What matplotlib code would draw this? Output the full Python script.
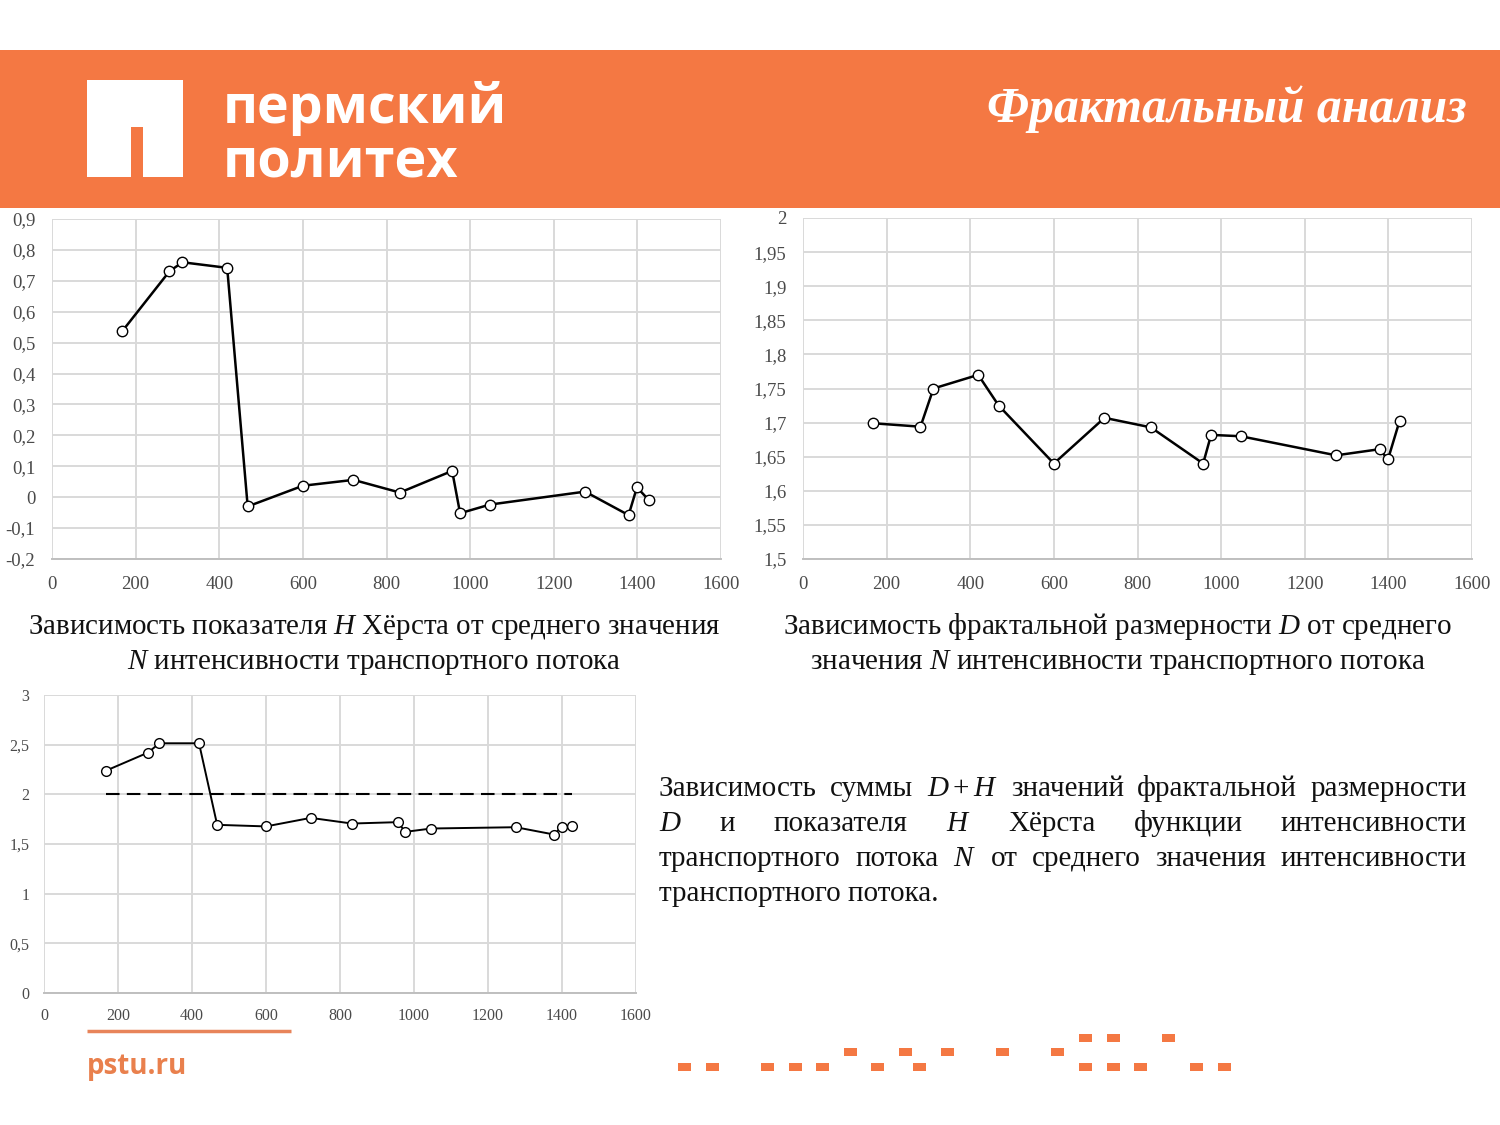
import matplotlib
matplotlib.use("Agg")
import matplotlib.pyplot as plt
import numpy as np
from matplotlib.patches import Rectangle, Polygon
from matplotlib.ticker import FuncFormatter

plt.rcParams['font.family'] = ['Liberation Serif', 'DejaVu Serif']
plt.rcParams['mathtext.fontset'] = 'custom'
plt.rcParams['mathtext.rm'] = 'Liberation Serif'
plt.rcParams['mathtext.it'] = 'Liberation Serif:italic'
plt.rcParams['mathtext.bf'] = 'Liberation Serif:bold'

# mean traffic intensity N
N = [168, 281, 312, 419, 468, 600, 721, 832, 957, 976, 1047, 1275, 1379, 1399, 1427]
# Hurst exponent H
H = [0.537, 0.731, 0.760, 0.742, -0.030, 0.037, 0.056, 0.015, 0.085, -0.052,
     -0.024, 0.018, -0.058, 0.032, -0.009]
# fractal dimension D
D = [1.699, 1.694, 1.750, 1.770, 1.725, 1.640, 1.707, 1.693, 1.640, 1.682,
     1.680, 1.652, 1.661, 1.646, 1.703]
# sum D + H
DH = [2.239, 2.420, 2.514, 2.514, 1.693, 1.677, 1.763, 1.706, 1.720, 1.622,
      1.656, 1.669, 1.595, 1.676, 1.686]
ref_level = 2

x_ticks = [0, 200, 400, 600, 800, 1000, 1200, 1400, 1600]
h_ticks = [-0.2, -0.1, 0, 0.1, 0.2, 0.3, 0.4, 0.5, 0.6, 0.7, 0.8, 0.9]
d_ticks = [1.5, 1.55, 1.6, 1.65, 1.7, 1.75, 1.8, 1.85, 1.9, 1.95, 2]
dh_ticks = [0, 0.5, 1, 1.5, 2, 2.5, 3]

title = "Фрактальный анализ"
cap1 = ["Зависимость показателя $H$ Хёрста от среднего значения",
        "$N$ интенсивности транспортного потока"]
cap2 = ["Зависимость фрактальной размерности $D$ от среднего",
        "значения $N$ интенсивности транспортного потока"]
para = [["Зависимость", "суммы", "$D+H$", "значений", "фрактальной", "размерности"],
        ["$D$", "и", "показателя", "$H$", "Хёрста", "функции", "интенсивности"],
        ["транспортного", "потока", "$N$", "от", "среднего", "значения", "интенсивности"],
        ["транспортного потока."]]

ORANGE = '#F47843'
W, Hpx = 1500, 1125

fig = plt.figure(figsize=(15, 11.25), dpi=100)
bg = fig.add_axes([0, 0, 1, 1])
bg.set_xlim(0, W)
bg.set_ylim(Hpx, 0)
bg.axis('off')
r = fig.canvas.get_renderer()


def fit(t, width):
    w = t.get_window_extent(renderer=r).width
    t.set_fontsize(t.get_fontsize() * width / w)


# header band and logo
bg.add_patch(Rectangle((0, 50), W, 158, color=ORANGE, lw=0))
bg.add_patch(Polygon([(87, 80), (183, 80), (183, 177), (143, 177), (143, 127),
                      (131, 127), (131, 177), (87, 177)], color='white', lw=0))
t = bg.text(223, 123, "пермский", color='white', fontsize=40, fontweight='bold',
            family='Open Sans', va='baseline')
fit(t, 284)
t = bg.text(223, 177, "политех", color='white', fontsize=40, fontweight='bold',
            family='Open Sans', va='baseline')
fit(t, 235)
t = bg.text(1467, 122, title, color='white', fontsize=32, fontweight='bold',
            style='italic', ha='right', va='baseline')
fit(t, 480)

# footer
bg.plot([87, 291], [1031, 1031], color='#E8845A', lw=2.5, solid_capstyle='butt')
t = bg.text(87, 1074, "pstu.ru", color='#E9804D', fontsize=22, fontweight='bold',
            family='Open Sans', va='baseline')
fit(t, 100)
sq_bottom = [684, 712, 767, 795, 822, 877, 919, 1085, 1113, 1140, 1196, 1224]
sq_mid = [850, 905, 947, 1002, 1057]
sq_top = [1085, 1113, 1168]
for xs, yc in ((sq_bottom, 1067), (sq_mid, 1052), (sq_top, 1038)):
    for xc in xs:
        bg.add_patch(Rectangle((xc - 6.5, yc - 4), 13, 8, color=ORANGE, lw=0))

# captions
for lines, xc in ((cap1, 374), (cap2, 1118)):
    for i, s in enumerate(lines):
        t = bg.text(xc, 634 + 35 * i, s, fontsize=19, ha='center', va='baseline',
                    color='#111111')
        if i == 0:
            fit(t, 693 if xc < 700 else 669)
            fs = t.get_fontsize()
        else:
            t.set_fontsize(fs)

# justified paragraph
x0, x1 = 659, 1467
for i, words in enumerate(para):
    yb = 796 + 35 * i
    texts = [bg.text(0, yb, w, fontsize=fs, va='baseline', color='#111111') for w in words]
    widths = [tt.get_window_extent(renderer=r).width for tt in texts]
    if len(words) > 1:
        gap = (x1 - x0 - sum(widths)) / (len(words) - 1)
    else:
        gap = 0
    x = x0
    for tt, w in zip(texts, widths):
        tt.set_x(x)
        x += w + gap


def fmt(v, pos):
    v = round(v, 2)
    if v == 0:
        return "0"
    return f"{v:g}".replace('.', ',')


def style_axes(ax, yticks, ylim, tick_fs, pad):
    ax.set_xlim(0, 1600)
    ax.set_ylim(*ylim)
    ax.set_xticks(x_ticks)
    ax.set_yticks(yticks)
    ax.yaxis.set_major_formatter(FuncFormatter(fmt))
    ax.grid(True, color='#D9D9D9', lw=1.4)
    ax.set_axisbelow(True)
    for s in ('top', 'right', 'left'):
        ax.spines[s].set_visible(False)
    ax.spines['bottom'].set_color('#BFBFBF')
    ax.spines['bottom'].set_linewidth(1.4)
    ax.tick_params(length=0, labelsize=tick_fs, labelcolor='#4A4A4A', pad=pad)


def px_axes(left, right, top, bottom):
    return fig.add_axes([left / W, 1 - bottom / Hpx, (right - left) / W, (bottom - top) / Hpx])


ax1 = px_axes(52, 721, 219, 559)
ax1.plot(N, H, color='black', lw=1.8, marker='o', ms=7.5, mfc='white', mec='black', mew=1.0,
         clip_on=False)
style_axes(ax1, h_ticks, (-0.2, 0.9), 13.5, 12)

ax2 = px_axes(803, 1472, 218, 559)
ax2.plot(N, D, color='black', lw=1.8, marker='o', ms=7.5, mfc='white', mec='black', mew=1.0,
         clip_on=False)
style_axes(ax2, d_ticks, (1.5, 2), 13.5, 12)

ax3 = px_axes(44, 636, 695, 993)
ax3.plot([N[0], N[-1]], [ref_level, ref_level], color='black', lw=1.5, dashes=(6.5, 3.5))
ax3.plot(N, DH, color='black', lw=1.4, marker='o', ms=7, mfc='white', mec='black', mew=1.0,
         clip_on=False)
style_axes(ax3, dh_ticks, (0, 3), 11.5, 10.5)

fig.savefig("out.png", dpi=100)
